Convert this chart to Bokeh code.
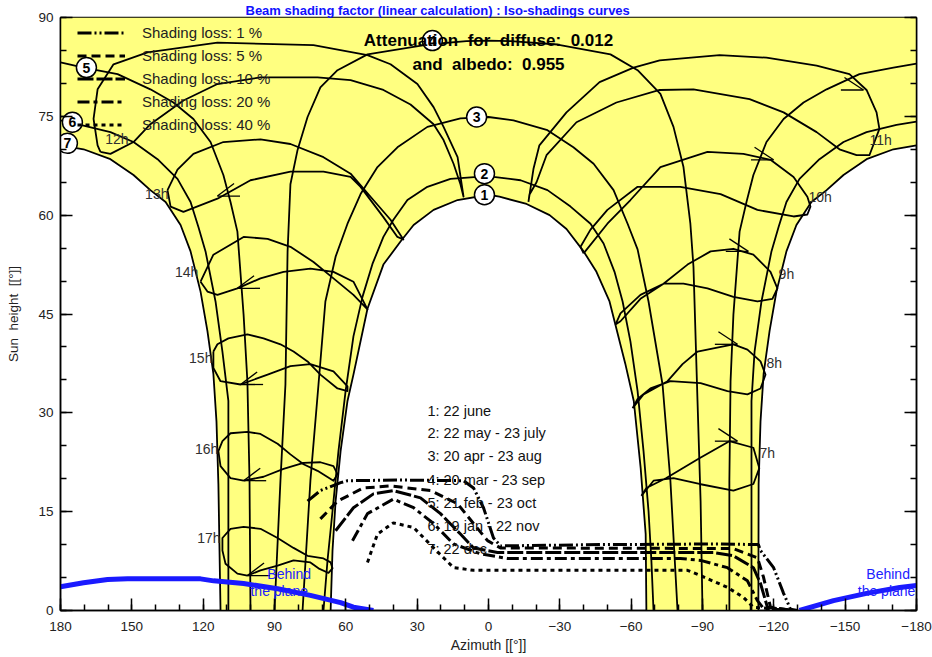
from bokeh.plotting import figure
from bokeh.models import Range1d, LinearAxis, FixedTicker, Label, Legend, LegendItem, Title
from bokeh.embed import file_html
from bokeh.resources import INLINE
from bokeh.core.properties import value

FONT = "Liberation Sans"
SP = "\u00a0"

# ---------------- date curves (azimuth [deg], sun height [deg]) ----------------
c1_az = [66.4, 65.6, 64.3, 62.2, 59.3, 56.8, 50.9, 44.2, 37.0, 31.5, 23.1, 13.0, 0.0,
         -4.6, -16.0, -25.7, -32.8, -40.0, -45.4, -50.9, -57.5, -61.1, -64.0, -66.1, -66.4]
c1_h = [0.0, 9.1, 16.6, 24.2, 31.8, 35.8, 45.8, 52.5, 56.0, 58.5, 60.8, 62.3, 63.1,
        62.8, 61.7, 60.0, 57.9, 54.5, 51.4, 46.9, 37.5, 31.8, 21.6, 11.6, 0.0]

c2_az = [69.4, 67.7, 65.6, 63.1, 60.1, 56.8, 53.0, 48.8, 44.2, 40.0, 34.1, 25.7, 16.0, 4.6, 0.0,
         -2.1, -13.5, -24.8, -34.5, -42.9, -48.4, -53.0, -56.4, -59.7, -62.7, -65.2, -67.3, -68.5, -69.4]
c2_h = [0.0, 7.6, 15.1, 24.2, 33.3, 41.6, 47.6, 52.6, 56.7, 59.3, 62.3, 64.3, 65.5, 65.8, 66.1,
        65.8, 65.3, 63.8, 61.3, 58.7, 55.7, 51.4, 46.9, 40.8, 33.3, 24.2, 15.1, 7.6, 0.0]

c3_az = [78.2, 74.9, 71.5, 68.6, 64.3, 59.3, 53.8, 46.7, 38.3, 25.7, 11.8, 0.0,
         -10.5, -24.8, -35.7, -44.2, -52.6, -58.5, -62.7, -67.3, -73.2, -76.5, -79.5]
c3_h = [0.0, 19.7, 34.3, 46.9, 53.7, 58.7, 63.2, 67.3, 70.3, 73.4, 74.7, 74.9,
        74.4, 72.9, 70.3, 67.8, 63.8, 58.7, 54.8, 46.9, 34.3, 19.7, 0.0]

c4_az = [90.0, 87.5, 85.4, 84.5, 83.3, 80.3, 76.1, 70.7, 63.5, 50.9, 25.7, 9.3, 0.0,
         -9.3, -29.0, -51.3, -62.7, -72.3, -77.8, -82.0, -84.9, -86.2, -87.9, -89.2, -90.0]
c4_h = [0.0, 19.7, 34.3, 54.5, 64.7, 69.9, 74.9, 79.4, 82.0, 84.4, 85.9, 86.4, 86.5,
        86.4, 85.9, 84.4, 82.0, 78.4, 73.4, 67.3, 58.7, 52.2, 31.8, 16.6, 0.0]

c5l_az = [100.1, 100.5, 101.4, 103.0, 105.6, 108.5, 111.5, 116.9, 124.1, 132.5, 142.2, 156.0, 170.3, 180.0]
c5l_h = [0.0, 19.7, 34.8, 44.9, 57.5, 62.0, 66.1, 71.1, 74.6, 77.1, 79.1, 81.4, 82.4, 83.2]
c5r_az = [-180.0, -170.3, -156.0, -142.2, -132.5, -124.1, -116.9, -111.4, -108.5, -105.6, -103.0, -101.8, -101.3, -101.3]
c5r_h = [83.0, 82.4, 81.4, 79.1, 77.1, 74.6, 71.1, 66.1, 62.0, 57.5, 44.9, 34.8, 19.7, 0.0]

c6l_az = [109.4, 109.4, 109.4, 111.9, 114.8, 119.0, 122.0, 125.3, 130.8, 139.2, 149.3, 159.0, 171.6, 180.0]
c6l_h = [0.0, 16.6, 31.8, 39.3, 46.9, 54.5, 58.2, 62.0, 65.5, 68.5, 71.1, 72.6, 73.7, 74.4]
c6r_az = [-180.0, -171.6, -159.0, -149.3, -139.2, -130.8, -125.3, -122.0, -119.0, -114.8, -111.9, -110.6, -110.6, -110.6]
c6r_h = [74.2, 73.7, 72.6, 71.1, 68.5, 65.5, 62.0, 58.2, 54.5, 46.9, 39.3, 31.8, 16.6, 0.0]

c7l_az = [112.7, 113.6, 114.4, 115.7, 118.2, 121.1, 125.3, 129.5, 135.8, 142.2, 149.3, 159.0, 170.3, 180.0]
c7l_h = [0.0, 19.2, 28.7, 35.9, 42.4, 48.4, 54.5, 58.5, 62.0, 63.8, 66.1, 68.5, 70.0, 70.6]
c7r_az = [-180.0, -170.3, -159.0, -149.3, -142.2, -135.8, -129.5, -125.3, -121.1, -118.2, -115.7, -114.4, -113.6, -113.5]
c7r_h = [70.6, 70.0, 68.5, 66.1, 63.8, 62.0, 58.5, 54.5, 48.4, 42.4, 35.9, 28.7, 19.2, 0.0]

# ---------------- hour loops ----------------
h7_az = [-64.3, -66.4, -74.8, -88.7, -101.3, -111.4, -113.9, -111.4, -103.0, -88.7, -77.8, -69.4, -65.2, -64.3]
h7_h = [17.4, 18.6, 20.1, 23.1, 25.7, 24.7, 21.6, 19.2, 18.2, 19.2, 20.1, 19.7, 17.8, 17.4]
h8_az = [-60.6, -65.2, -75.3, -81.6, -87.9, -94.6, -103.0, -108.9, -114.4, -116.5, -114.4, -108.9, -100.5, -89.2, -76.5, -68.1, -62.7, -60.6]
h8_h = [30.7, 32.8, 34.8, 37.4, 39.3, 39.8, 40.4, 39.6, 37.8, 35.8, 33.7, 32.8, 33.3, 34.5, 34.8, 33.7, 32.1, 30.7]
h9_az = [-53.4, -55.5, -63.9, -73.6, -83.7, -93.4, -103.0, -111.4, -118.6, -121.5, -119.4, -113.1, -103.0, -92.1, -82.0, -73.6, -63.9, -55.5, -53.4]
h9_h = [43.4, 45.1, 47.9, 49.6, 52.5, 54.5, 54.9, 54.0, 51.4, 48.9, 47.3, 46.9, 47.6, 48.9, 49.6, 49.6, 47.3, 43.9, 43.4]
h10_az = [-40.0, -50.0, -59.7, -72.3, -92.1, -107.2, -118.6, -128.3, -134.1, -135.4, -134.1, -128.3, -113.1, -97.6, -80.7, -62.7, -50.0, -42.9, -38.7, -40.0]
h10_h = [54.2, 58.7, 62.3, 67.3, 69.6, 69.3, 68.4, 65.8, 62.8, 61.3, 60.1, 59.8, 60.8, 63.2, 64.3, 64.3, 60.8, 57.8, 55.2, 54.2]
h11_az = [-16.8, -18.9, -21.4, -32.8, -46.7, -61.0, -72.0, -97.2, -116.9, -138.0, -151.8, -159.0, -163.2, -164.4,
          -160.2, -154.8, -147.6, -138.0, -124.1, -109.8, -86.2, -72.0, -53.8, -37.0, -24.4, -20.2, -17.2, -16.8]
h11_h = [62.0, 67.0, 70.6, 75.6, 80.2, 82.4, 83.5, 84.3, 83.9, 82.7, 81.4, 79.0, 75.6, 73.1,
         69.1, 69.1, 70.0, 72.6, 75.6, 77.6, 79.1, 79.0, 77.1, 74.1, 69.1, 65.0, 63.1, 62.0]
h12_az = [163.2, 164.4, 166.1, 164.4, 157.7, 143.4, 114.0, 73.6, 50.9, 41.2, 29.9, 23.1, 18.9, 13.0, 10.5,
          11.8, 14.7, 18.9, 23.1, 32.8, 44.2, 58.0, 71.9, 95.9, 114.0, 128.3, 142.2, 149.3, 159.0, 163.2]
h12_h = [69.6, 70.6, 74.6, 79.1, 82.9, 84.7, 86.2, 85.8, 84.3, 82.9, 79.9, 76.4, 73.4, 68.8, 62.8,
         64.7, 67.8, 71.4, 73.8, 76.8, 79.0, 80.5, 80.9, 80.9, 79.9, 77.4, 73.8, 71.1, 69.3, 69.6]
h13_az = [135.0, 130.8, 124.1, 111.5, 95.9, 83.3, 69.4, 58.0, 49.6, 41.2, 35.8, 38.3, 44.2, 53.8, 58.0, 69.4, 83.3, 100.1, 114.0, 128.3, 133.7, 135.0]
h13_h = [63.8, 66.9, 69.3, 71.1, 71.5, 70.8, 68.8, 66.3, 62.8, 59.3, 56.3, 56.7, 59.7, 64.3, 65.8, 66.6, 66.6, 65.3, 62.5, 60.5, 61.3, 63.8]
h14_az = [121.1, 115.7, 103.0, 92.9, 83.3, 73.6, 65.2, 56.8, 50.9, 56.8, 65.2, 74.9, 86.2, 95.9, 105.6, 114.0, 118.2, 121.1]
h14_h = [49.9, 54.0, 56.7, 56.4, 55.2, 52.9, 50.4, 47.9, 45.7, 49.9, 51.4, 51.9, 51.4, 50.4, 48.9, 47.9, 48.4, 49.9]
h15_az = [115.7, 114.0, 109.4, 101.4, 94.6, 87.5, 82.0, 76.1, 70.7, 63.5, 59.3, 59.3, 65.2, 74.9, 83.3, 92.9, 104.3, 112.7, 115.7, 115.7]
h15_h = [39.3, 40.4, 41.3, 41.9, 41.3, 40.4, 39.3, 37.8, 35.8, 33.7, 33.3, 34.0, 36.3, 37.4, 37.1, 35.8, 34.3, 34.8, 36.8, 39.3]
h16_az = [103.0, 108.5, 112.7, 113.6, 111.9, 108.5, 101.4, 95.9, 88.7, 83.3, 77.8, 71.9, 65.2, 63.5, 65.2, 70.7, 77.8, 86.2, 94.6, 103.0]
h16_h = [19.7, 20.1, 21.9, 24.2, 25.7, 26.9, 27.1, 26.8, 25.3, 23.7, 22.2, 21.2, 19.7, 20.7, 21.9, 22.5, 22.4, 21.5, 20.3, 19.7]
h17_az = [101.4, 105.6, 110.6, 111.9, 111.9, 108.5, 103.0, 95.9, 88.7, 82.0, 76.1, 69.4, 66.4, 65.6, 67.3, 71.5, 74.9, 82.0, 88.7, 95.9, 101.4]
h17_h = [5.3, 5.6, 7.1, 9.1, 11.0, 12.4, 12.7, 12.4, 11.0, 9.5, 8.3, 7.9, 7.3, 6.4, 5.7, 6.4, 7.3, 7.6, 6.8, 6.1, 5.3]

# arrow tips on the hour loops (afternoon: pointing left, morning: pointing right)
arrL_az = [114.0, 105.6, 104.3, 103.0, 101.4]
arrL_h = [62.9, 48.9, 34.3, 19.7, 5.3]
arrR_az = [-104.7, -104.7, -109.3, -119.9, -157.7]
arrR_h = [25.7, 40.4, 54.5, 68.4, 79.0]

# ---------------- iso-shading curves ----------------
s1_az = [76.1, 70.7, 62.2, 59.3, 37.0, 10.5, 6.3, 2.1, -2.1, -5.0, -47.1, -96.3, -113.5, -114.4, -119.9, -124.1, -127.0, -130.0]
s1_h = [16.6, 18.2, 19.4, 19.7, 19.8, 19.7, 18.6, 15.6, 11.0, 9.8, 10.0, 10.1, 10.0, 9.1, 6.5, 2.6, 0.2, 0.0]
s5_az = [70.7, 63.5, 52.6, 41.2, 24.4, 13.0, 6.3, 0.4, -5.0, -103.0, -113.1, -115.7, -118.6, -128.0]
s5_h = [13.9, 16.6, 18.6, 18.9, 18.2, 16.2, 13.2, 10.6, 9.5, 9.4, 8.0, 5.0, 0.5, 0.0]
s10_az = [64.3, 56.8, 48.4, 40.0, 28.6, 20.2, 11.8, 6.3, -3.8, -94.6, -103.0, -111.4, -114.4, -117.3, -128.0]
s10_h = [12.1, 15.6, 17.7, 18.2, 17.1, 14.7, 11.6, 9.5, 8.8, 8.8, 8.3, 6.5, 4.1, 0.5, 0.0]
s20_az = [57.2, 50.9, 40.0, 31.5, 23.1, 14.7, 3.4, -8.0, -80.7, -89.2, -100.5, -108.9, -113.1, -115.7, -128.0]
s20_h = [10.6, 14.7, 16.9, 15.6, 13.2, 10.1, 8.6, 7.9, 7.9, 7.6, 6.5, 4.5, 1.5, 0.3, 0.0]
s40_az = [50.9, 46.7, 40.0, 31.5, 23.1, 14.7, 6.3, -83.7, -89.2, -100.5, -107.2, -111.4, -128.0]
s40_h = [7.3, 11.6, 13.3, 12.6, 9.5, 6.5, 6.1, 6.1, 5.3, 3.5, 2.0, 0.5, 0.0]
shade_labels = ["Shading loss: 1 %", "Shading loss: 5 %", "Shading loss: 10 %",
                "Shading loss: 20 %", "Shading loss: 40 %"]

# ---------------- horizon of the plane ----------------
bl_az = [180.0, 170.3, 160.2, 151.8, 121.1, 115.6, 103.0, 88.7, 74.9, 62.2, 56.8, 48.4]
bl_h = [3.6, 4.2, 4.7, 4.8, 4.8, 4.5, 4.1, 3.3, 2.3, 1.2, 0.5, 0.0]
br_az = [-130.8, -145.1, -159.0, -172.9, -180.0]
br_h = [0.0, 1.5, 2.6, 3.5, 3.8]

# ---------------- labels ----------------
num_txt = ["1", "2", "3", "4", "5", "6", "7"]
num_az = [1.7, 1.7, 5.0, 23.6, 169.1, 175.0, 177.1]
num_h = [63.1, 66.3, 74.9, 86.5, 82.4, 74.1, 70.9]
hourL_txt = ["12h", "13h", "14h", "15h", "16h", "17h"]
hourL_az = [151.4, 134.6, 122.0, 116.1, 113.6, 112.7]
hourL_h = [71.6, 63.2, 51.4, 38.3, 24.5, 11.0]
hourR_txt = ["11h", "10h", "9h", "8h", "7h"]
hourR_az = [-160.2, -134.6, -122.0, -116.9, -114.0]
hourR_h = [71.4, 62.8, 51.0, 37.5, 23.9]
dates_txt = ["1: 22 june", "2: 22 may - 23 july", "3: 20 apr - 23 aug", "4: 20 mar - 23 sep",
             "5: 21 feb - 23 oct", "6: 19 jan - 22 nov", "7: 22 dec"]
dates_h = [30.3, 26.9, 23.4, 19.8, 16.3, 12.9, 9.4]
x_ticks = [180, 150, 120, 90, 60, 30, 0, -30, -60, -90, -120, -150, -180]
y_ticks = [0, 15, 30, 45, 60, 75, 90]

# ============================================================
p = figure(width=932, height=657, x_range=Range1d(180, -180), y_range=Range1d(0, 90),
           output_backend="svg", toolbar_location=None,
           min_border_left=60, min_border_right=16, min_border_top=15, min_border_bottom=47)
p.grid.visible = False
p.outline_line_color = "black"
p.outline_line_width = 1.5
p.background_fill_color = "white"
p.border_fill_color = "white"

p.add_layout(Title(text="Beam shading factor (linear calculation) : Iso-shadings curves",
                   align="left", offset=185, standoff=0,
                   text_font=FONT, text_font_size="13px", text_font_style="bold",
                   text_color="#1010ff"), "above")

def style_axis(ax, ticks, minor):
    ax.ticker = FixedTicker(ticks=ticks, minor_ticks=minor)
    ax.major_tick_in = 12
    ax.major_tick_out = 0
    ax.minor_tick_in = 6
    ax.minor_tick_out = 0
    ax.major_tick_line_width = 1.5
    ax.minor_tick_line_width = 1.5
    ax.axis_line_width = 1.5
    ax.major_label_text_font = FONT
    ax.major_label_text_font_size = "13.5px"
    ax.major_label_text_color = "#222222"

style_axis(p.xaxis[0], x_ticks, list(range(-180, 181, 10)))
p.xaxis.major_label_standoff = 11
p.xaxis.axis_label = "Azimuth [[°]]"
p.xaxis.axis_label_text_font = FONT
p.xaxis.axis_label_text_font_size = "14px"
p.xaxis.axis_label_text_font_style = "normal"
p.xaxis.axis_label_text_color = "#222222"
p.xaxis.axis_label_standoff = 3

style_axis(p.yaxis[0], y_ticks, list(range(0, 91, 5)))
p.yaxis.major_label_standoff = 7
p.yaxis.axis_label = "Sun" + SP + SP + "height" + SP + SP + "[[°]]"
p.yaxis.axis_label_text_font = FONT
p.yaxis.axis_label_text_font_size = "13.5px"
p.yaxis.axis_label_text_font_style = "normal"
p.yaxis.axis_label_text_color = "#222222"
p.yaxis.axis_label_standoff = 14

ry = LinearAxis()
style_axis(ry, y_ticks, list(range(0, 91, 5)))
ry.major_label_overrides = {t: "" for t in y_ticks}
ry.major_label_standoff = 0
p.add_layout(ry, "right")

# yellow sun-path region
poly_x = c7l_az + [180.0, -180.0] + c7r_az + c1_az[::-1]
poly_y = c7l_h + [90.0, 90.0] + c7r_h + c1_h[::-1]
p.patch(poly_x, poly_y, fill_color="#FFFF80", line_color=None)

LW = 1.8
for xs, ys in [(c1_az, c1_h), (c2_az, c2_h), (c3_az, c3_h), (c4_az, c4_h),
               (c5l_az, c5l_h), (c5r_az, c5r_h), (c6l_az, c6l_h), (c6r_az, c6r_h),
               (c7l_az, c7l_h), (c7r_az, c7r_h)]:
    p.line(xs, ys, line_color="black", line_width=LW, line_join="round")

for xs, ys in [(h7_az, h7_h), (h8_az, h8_h), (h9_az, h9_h), (h10_az, h10_h), (h11_az, h11_h),
               (h12_az, h12_h), (h13_az, h13_h), (h14_az, h14_h), (h15_az, h15_h),
               (h16_az, h16_h), (h17_az, h17_h)]:
    p.line(xs, ys, line_color="black", line_width=LW, line_join="round")

# half arrows on hour loops
p.segment(x0=arrL_az, y0=arrL_h, x1=[a - 9.5 for a in arrL_az], y1=arrL_h, line_color="black", line_width=1.3)
p.segment(x0=arrL_az, y0=arrL_h, x1=[a - 7.0 for a in arrL_az], y1=[v + 1.9 for v in arrL_h], line_color="black", line_width=1.3)
p.segment(x0=arrR_az, y0=arrR_h, x1=[a + 9.5 for a in arrR_az], y1=arrR_h, line_color="black", line_width=1.3)
p.segment(x0=arrR_az, y0=arrR_h, x1=[a + 8.0 for a in arrR_az], y1=[v + 1.9 for v in arrR_h], line_color="black", line_width=1.3)

# iso-shading curves
dashes = ["14 3 2 3 2 3", "9 5", "16 3", "12 4 4 4", "4 4"]
shade = [(s1_az, s1_h), (s5_az, s5_h), (s10_az, s10_h), (s20_az, s20_h), (s40_az, s40_h)]
items = []
for (xs, ys), d, lab in zip(shade, dashes, shade_labels):
    r = p.line(xs, ys, line_color="black", line_width=3, line_dash=d)
    items.append(LegendItem(label=lab, renderers=[r]))

legend = Legend(items=items, location=(17, 474), orientation="vertical",
                glyph_width=48, glyph_height=23, label_height=23, label_width=100,
                spacing=0, padding=0, margin=0, label_standoff=17,
                background_fill_alpha=0, border_line_alpha=0,
                label_text_font=FONT, label_text_font_size="15px", label_text_color="#222222")
p.add_layout(legend)

# horizon of the plane
p.line(bl_az, bl_h, line_color="#1a1aff", line_width=5)
p.line(br_az, br_h, line_color="#1a1aff", line_width=5)

# numbered circles
p.scatter(num_az, num_h, size=20, fill_color="white", line_color="black", line_width=1.5)
p.text(num_az, num_h, text=num_txt, text_align="center", text_baseline="middle",
       text_font=value(FONT), text_font_size=value("14px"), text_font_style="bold", text_color="black")

# hour labels
p.text(hourL_az, hourL_h, text=hourL_txt, text_align="right", text_baseline="middle",
       text_font=value(FONT), text_font_size=value("14px"), text_color="#303030")
p.text(hourR_az, hourR_h, text=hourR_txt, text_align="left", text_baseline="middle",
       text_font=value(FONT), text_font_size=value("14px"), text_color="#303030")

# dates list
p.text([25.7] * len(dates_txt), dates_h, text=dates_txt, text_align="left", text_baseline="middle",
       text_font=value(FONT), text_font_size=value("14.5px"), text_color="#111111")

# annotations
for t, yy in [("Attenuation" + SP + SP + "for" + SP + SP + "diffuse:" + SP + SP + "0.012", 86.5),
              ("and" + SP + SP + "albedo:" + SP + SP + "0.955", 82.9)]:
    p.add_layout(Label(x=0, y=yy, text=t, text_align="center", text_baseline="middle",
                       text_font=FONT, text_font_size="17px", text_font_style="bold", text_color="black"))

for x0, t1x in [(93.0, 100.1), (-158.9, -155.3)]:
    p.add_layout(Label(x=x0, y=5.6, text="Behind", text_align="left", text_baseline="middle",
                       text_font=FONT, text_font_size="14px", text_color="#2020ff"))
    p.add_layout(Label(x=t1x, y=3.0, text="the plane", text_align="left", text_baseline="middle",
                       text_font=FONT, text_font_size="14px", text_color="#2020ff"))

open("out.html", "w").write(file_html(p, INLINE))
